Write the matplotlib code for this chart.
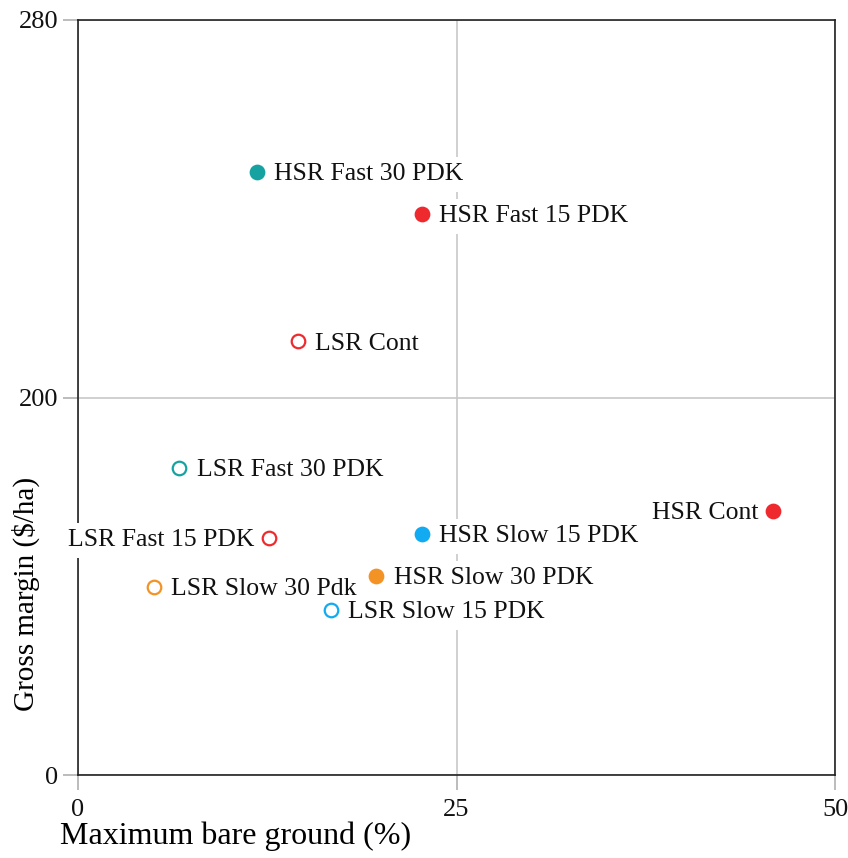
import numpy as np
import matplotlib
matplotlib.use("Agg")
import matplotlib.pyplot as plt
from matplotlib.scale import FuncScale

labels = ["HSR Fast 30 PDK", "HSR Fast 15 PDK", "LSR Cont", "LSR Fast 30 PDK",
          "HSR Cont", "LSR Fast 15 PDK", "HSR Slow 15 PDK", "HSR Slow 30 PDK",
          "LSR Slow 30 Pdk", "LSR Slow 15 PDK"]
bare_ground = [11.8, 22.7, 14.5, 6.7, 45.9, 12.6, 22.7, 19.7, 5.0, 16.7]
gross_margin = [247.8, 238.9, 211.9, 162.9, 140.1, 125.7, 127.9, 105.6, 99.7, 87.5]
colors = ["#17a2a2", "#ee2a2f", "#ee2a2f", "#17a2a2", "#ee2a2f", "#ee2a2f",
          "#12aaf0", "#f39325", "#f39325", "#12aaf0"]
filled = [True, True, False, False, True, False, True, True, False, False]
label_left = [False, False, False, False, True, True, False, False, False, False]
x_ticks = [0, 25, 50]
y_ticks = [0, 200, 280]

plt.rcParams['font.family'] = ['Liberation Serif', 'DejaVu Serif']

def fwd(y):
    y = np.asarray(y, dtype=float)
    return np.where(y <= 200, y / 200 * 0.5, 0.5 + (y - 200) / 80 * 0.5)

def inv(v):
    v = np.asarray(v, dtype=float)
    return np.where(v <= 0.5, v / 0.5 * 200, 200 + (v - 0.5) / 0.5 * 80)

fig = plt.figure(figsize=(8.48, 8.58), dpi=100)
ax = fig.add_axes([78/848, 83/858, (835-78)/848, (775-20)/858])
ax.set_yscale(FuncScale(ax.yaxis, (fwd, inv)))
ax.set_xlim(0, 50)
ax.set_ylim(0, 280)

ax.set_xticks(x_ticks)
ax.set_yticks(y_ticks)
ax.grid(True, color="#c8c8c8", linewidth=1.2, zorder=0)
ax.set_axisbelow(True)

for sp in ax.spines.values():
    sp.set_color("#222222")
    sp.set_linewidth(1.2)
    sp.set_zorder(1)
ax.tick_params(axis='both', length=11, width=1.2, color="#b0b0b0",
               labelsize=19, pad=3, labelcolor="#111111")
ax.tick_params(axis='x', pad=6)

for i, (lab, x, y, c, f, left) in enumerate(zip(labels, bare_ground, gross_margin,
                                                colors, filled, label_left)):
    ax.scatter([x], [y], s=95, facecolors=c if f else "white",
               edgecolors=c, linewidths=1.6, zorder=10, clip_on=False)
    off = -10.5 if left else 12.5
    ax.annotate(lab, (x, y), xytext=(off, 0), textcoords='offset points',
                ha='right' if left else 'left', va='center_baseline', fontsize=18.5,
                color="#111111", zorder=3 + i * 0.1, annotation_clip=False,
                bbox=dict(boxstyle='square,pad=0.25', fc='white', ec='none'))

ax.set_xlabel("Maximum bare ground (%)", fontsize=23, loc='left')
ax.xaxis.set_label_coords(-0.024, -0.062)
ax.set_ylabel("Gross margin ($/ha)", fontsize=21)
ax.yaxis.set_label_coords(-0.050, 0.24)

fig.savefig("out.png", dpi=100)
